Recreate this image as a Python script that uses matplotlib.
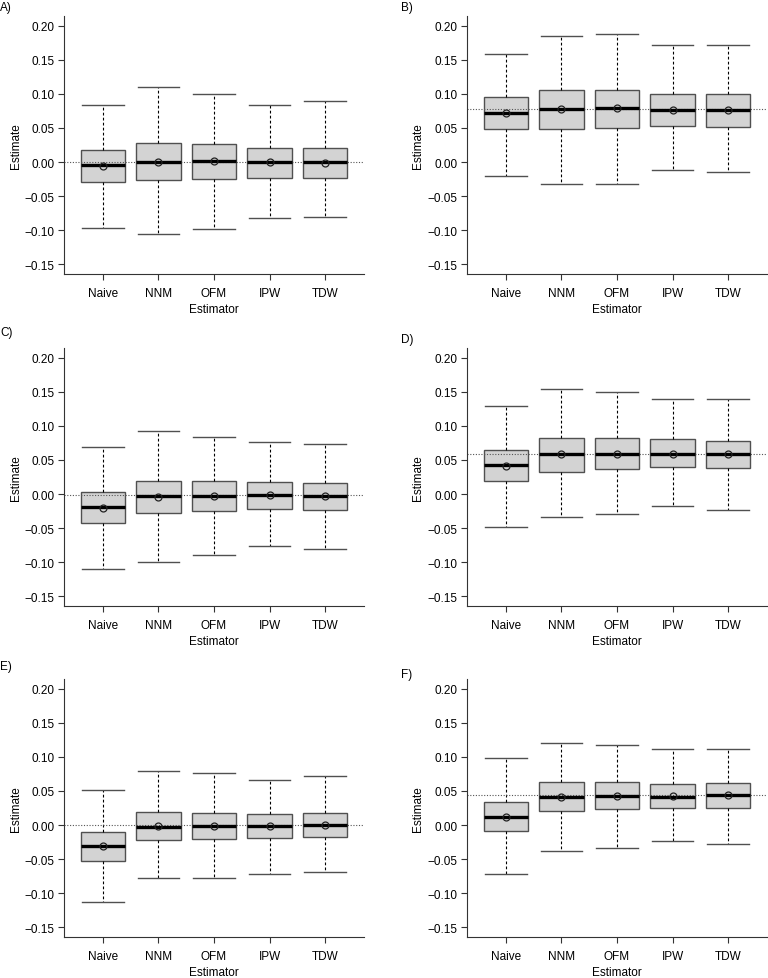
import matplotlib
matplotlib.use("Agg")
import matplotlib.pyplot as plt

plt.rcParams['font.family'] = ['Liberation Sans', 'DejaVu Sans']

# Estimators and panel labels
estimators = ['Naive', 'NNM', 'OFM', 'IPW', 'TDW']
panel_labels = ['A)', 'B)', 'C)', 'D)', 'E)', 'F)']

# True value of each scenario (dotted reference line)
true_values = [0.0, 0.078, -0.002, 0.059, 0.0, 0.0435]

# Box plot statistics per panel (rows) and estimator (columns)
whisker_low = [
    [-0.097, -0.105, -0.098, -0.082, -0.081],
    [-0.020, -0.032, -0.032, -0.011, -0.014],
    [-0.110, -0.100, -0.090, -0.0755, -0.080],
    [-0.0485, -0.033, -0.029, -0.017, -0.0235],
    [-0.112, -0.078, -0.077, -0.072, -0.069],
    [-0.0717, -0.0385, -0.0337, -0.024, -0.0278],
]
q1 = [
    [-0.029, -0.027, -0.025, -0.023, -0.024],
    [0.048, 0.049, 0.050, 0.053, 0.052],
    [-0.0426, -0.028, -0.0245, -0.0216, -0.0235],
    [0.019, 0.033, 0.036, 0.040, 0.038],
    [-0.052, -0.0215, -0.0205, -0.0195, -0.0176],
    [-0.0088, 0.021, 0.0234, 0.0244, 0.0254],
]
median = [
    [-0.005, 0.0, 0.001, 0.0, -0.0005],
    [0.0715, 0.078, 0.079, 0.0765, 0.076],
    [-0.0196, -0.0034, -0.0025, -0.0015, -0.003],
    [0.043, 0.058, 0.059, 0.059, 0.058],
    [-0.031, -0.003, -0.001, -0.002, 0.0],
    [0.012, 0.0405, 0.043, 0.0415, 0.044],
]
q3 = [
    [0.0175, 0.028, 0.026, 0.021, 0.021],
    [0.096, 0.106, 0.105, 0.100, 0.100],
    [0.0025, 0.0196, 0.0196, 0.017, 0.0157],
    [0.0647, 0.082, 0.082, 0.080, 0.078],
    [-0.0098, 0.0185, 0.018, 0.0156, 0.018],
    [0.034, 0.0624, 0.0624, 0.060, 0.062],
]
whisker_high = [
    [0.083, 0.110, 0.100, 0.083, 0.089],
    [0.159, 0.184, 0.1875, 0.171, 0.171],
    [0.0696, 0.092, 0.084, 0.0765, 0.0735],
    [0.129, 0.154, 0.150, 0.140, 0.140],
    [0.052, 0.079, 0.0756, 0.066, 0.0717],
    [0.098, 0.120, 0.1176, 0.112, 0.112],
]
means = [
    [-0.006, 0.0, 0.0015, 0.0, -0.001],
    [0.0715, 0.078, 0.079, 0.0765, 0.076],
    [-0.020, -0.004, -0.0025, -0.002, -0.0034],
    [0.041, 0.058, 0.059, 0.059, 0.058],
    [-0.031, -0.0015, -0.001, -0.001, 0.0005],
    [0.012, 0.0415, 0.042, 0.043, 0.044],
]

fig = plt.figure(figsize=(7.68, 9.79), dpi=100)

W, H = 768.0, 979.0
col_left = [64, 467]
row_top = [17, 349, 680]
ax_w, ax_h = 300, 258
label_pos = [(0, 8), (401, 8), (0, 333), (401, 340), (0, 667), (401, 675)]
fs = 8.5

for i in range(6):
    r, c = divmod(i, 2)
    rect = [col_left[c] / W, 1 - (row_top[r] + ax_h) / H, ax_w / W, ax_h / H]
    ax = fig.add_axes(rect)

    stats = []
    for j, name in enumerate(estimators):
        stats.append({
            'label': name,
            'whislo': whisker_low[i][j],
            'q1': q1[i][j],
            'med': median[i][j],
            'q3': q3[i][j],
            'whishi': whisker_high[i][j],
            'mean': means[i][j],
            'fliers': [],
        })

    ax.bxp(stats, positions=range(1, 6), widths=0.8, capwidths=0.75,
           patch_artist=True, showmeans=True, showfliers=False,
           boxprops=dict(facecolor='#d3d3d3', edgecolor='#505050', linewidth=1.0, zorder=2),
           whiskerprops=dict(color='black', linestyle=(0, (2.5, 2)), linewidth=0.8),
           capprops=dict(color='#505050', linewidth=1.0),
           medianprops=dict(color='black', linewidth=2.4, solid_capstyle='butt', zorder=3),
           meanprops=dict(marker='o', markerfacecolor='none', markeredgecolor='#222222',
                          markersize=5, markeredgewidth=0.9, zorder=4))

    ax.axhline(true_values[i], color='#555555', linestyle=(0, (1, 1.5)), linewidth=0.8, zorder=2.5)

    ax.set_xlim(0.3, 5.7)
    ax.set_ylim(-0.164, 0.214)
    ax.set_yticks([-0.15, -0.10, -0.05, 0.00, 0.05, 0.10, 0.15, 0.20])
    ax.set_yticklabels(['\u22120.15', '\u22120.10', '\u22120.05', '0.00', '0.05', '0.10', '0.15', '0.20'])
    ax.set_xticks(range(1, 6))
    ax.set_xticklabels(estimators)
    ax.tick_params(labelsize=fs, length=4.5, width=0.8, color='#333333', pad=2.5)
    ax.tick_params(axis='x', pad=5)
    for s in ['top', 'right']:
        ax.spines[s].set_visible(False)
    for s in ['left', 'bottom']:
        ax.spines[s].set_linewidth(0.8)
        ax.spines[s].set_color('#333333')
    ax.set_ylabel('Estimate', fontsize=fs, labelpad=2)
    ax.set_xlabel('Estimator', fontsize=fs, labelpad=3)

    lx, ly = label_pos[i]
    fig.text(lx / W, 1 - ly / H, panel_labels[i], fontsize=fs, va='center', ha='left')

fig.savefig('out.png', dpi=100)
